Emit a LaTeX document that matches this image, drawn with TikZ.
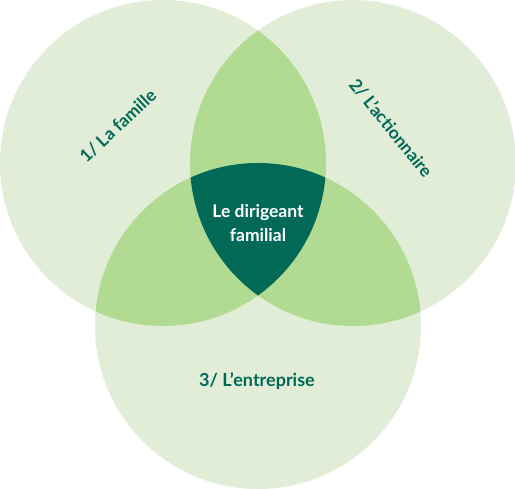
\documentclass[tikz,border=0pt]{standalone}
\usepackage{fontspec}
\setmainfont{Lato}
\definecolor{lightg}{HTML}{E2EDD8}
\definecolor{midg}{HTML}{B1DA93}
\definecolor{darkg}{HTML}{006A57}
\begin{document}
\begin{tikzpicture}[x=1pt,y=-1pt,
  lbl/.style={font=\bfseries\fontsize{17.5}{21}\selectfont, text=darkg, inner sep=0pt},
  ctr/.style={font=\bfseries\fontsize{17.5}{24}\selectfont, text=white, align=center, inner sep=0pt}]
\useasboundingbox (0,0) rectangle (515,489);
\coordinate (cA) at (163,163);
\coordinate (cB) at (353,163);
\coordinate (cC) at (258,326);
\def\R{163}
\fill[lightg] (cA) circle (\R);
\fill[lightg] (cB) circle (\R);
\fill[lightg] (cC) circle (\R);
\begin{scope}
  \clip (cA) circle (\R);
  \fill[midg] (cB) circle (\R);
  \fill[midg] (cC) circle (\R);
\end{scope}
\begin{scope}
  \clip (cB) circle (\R);
  \fill[midg] (cC) circle (\R);
\end{scope}
\begin{scope}
  \clip (cA) circle (\R);
  \clip (cB) circle (\R);
  \fill[darkg] (cC) circle (\R);
\end{scope}
\node[ctr] (center) at (258,223) {Le dirigeant\\familial};
\node[lbl, rotate=43] (fam) at (118,126) {1/ La famille};
\node[lbl, rotate=-51] (act) at (391,128) {2/ L’actionnaire};
\node[lbl, font=\bfseries\fontsize{18}{22}\selectfont] (ent) at (257,381) {3/ L’entreprise};
\end{tikzpicture}
\end{document}
